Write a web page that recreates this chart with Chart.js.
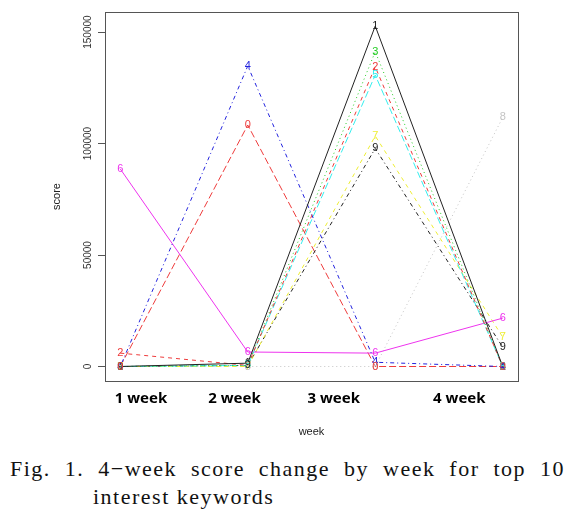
<!DOCTYPE html>
<html>
<head>
<meta charset="utf-8">
<script src="https://cdn.jsdelivr.net/npm/chart.js@4/dist/chart.umd.min.js"></script>
<style>
  html, body { margin: 0; padding: 0; background: #fff; }
  #wrap { position: relative; width: 585px; height: 513px; overflow: hidden; }
  #c { position: absolute; left: 0; top: 0; }
  .cap { position: absolute; font-family: "Liberation Serif", serif; font-size: 22px; color: #111; letter-spacing: 1.5px; white-space: nowrap; }
  #cap1 { left: 10px; top: 456px; width: 555px; white-space: normal; text-align: justify; text-align-last: justify; }
  #cap2 { left: 93px; top: 484px; }
</style>
</head>
<body>
<div id="wrap">
  <canvas id="c" width="585" height="440"></canvas>
  <div class="cap" id="cap1">Fig. 1. 4−week score change by week for top 10</div>
  <div class="cap" id="cap2">interest keywords</div>
</div>
<script>
// ---- data ----
const weeks = [1, 2, 3, 4];
const weekLabels = ["1 week", "2 week", "3 week", "4 week"];
const weekLabelPos = [1.162, 1.896, 2.674, 3.660];
const yTicks = [0, 50000, 100000, 150000];
const seriesNames = ["1", "2", "3", "4", "5", "6", "7", "8", "9", "0"];
const s1 = [0, 1500, 152700, 0];
const s2 = [6000, 500, 134400, 0];
const s3 = [0, 500, 141200, 0];
const s4 = [0, 134800, 1900, 0];
const s5 = [0, 500, 130700, 0];
const s6 = [88600, 6500, 6000, 21700];
const s7 = [0, 0, 103400, 13200];
const s8 = [0, 0, 0, 111700];
const s9 = [0, 500, 97800, 8700];
const s10 = [0, 108300, 0, 0];
const seriesValues = [s1, s2, s3, s4, s5, s6, s7, s8, s9, s10];

// ---- styles ----
const colors = ["#222222", "#ee3b3b", "#22cc22", "#2222dd", "#33eeee", "#ee33ee", "#eeee33", "#c4c4c4", "#222222", "#ee3b3b"];
const dashes = [[], [4, 4], [1, 3], [1, 3, 4, 3], [7, 3]];

const datasets = seriesValues.map((vals, i) => ({
  label: seriesNames[i],
  data: vals.map((v, j) => ({ x: weeks[j], y: v })),
  borderColor: colors[i],
  backgroundColor: colors[i],
  borderWidth: 1,
  borderDash: dashes[i % 5],
  pointRadius: 0,
  pointHoverRadius: 0,
  tension: 0,
  fill: false
}));

const pointLabels = {
  id: 'pointLabels',
  afterDatasetsDraw(chart) {
    const ctx = chart.ctx;
    ctx.save();
    ctx.font = '11px "Liberation Sans", Arial, sans-serif';
    ctx.textAlign = 'center';
    ctx.textBaseline = 'middle';
    chart.data.datasets.forEach((ds, i) => {
      const meta = chart.getDatasetMeta(i);
      ctx.fillStyle = ds.borderColor;
      meta.data.forEach(pt => {
        ctx.fillText(ds.label, pt.x, pt.y);
      });
    });
    ctx.restore();
  }
};

const boxPlugin = {
  id: 'box',
  afterDraw(chart) {
    const a = chart.chartArea;
    const ctx = chart.ctx;
    ctx.save();
    ctx.strokeStyle = '#555';
    ctx.lineWidth = 1;
    ctx.strokeRect(Math.round(a.left) + 0.5, Math.round(a.top) + 0.5, Math.round(a.right - a.left), Math.round(a.bottom - a.top));
    ctx.restore();
  }
};

new Chart(document.getElementById('c'), {
  type: 'line',
  data: { datasets },
  options: {
    responsive: false,
    animation: false,
    events: [],
    layout: { padding: { top: 12, right: 67, left: 0, bottom: 0 } },
    plugins: { legend: { display: false }, tooltip: { enabled: false }, title: { display: false } },
    scales: {
      x: {
        type: 'linear',
        min: 0.88, max: 4.12,
        afterBuildTicks(scale) { scale.ticks = weekLabelPos.map(v => ({ value: v })); },
        afterFit(scale) { scale.height = 59; },
        grid: { display: false, drawTicks: false },
        border: { display: false },
        ticks: {
          autoSkip: false,
          maxRotation: 0, minRotation: 0,
          padding: 9,
          color: '#000',
          font: { family: '"Noto Sans", sans-serif', size: 15, weight: 'bold' },
          callback: (v, idx) => weekLabels[idx]
        },
        title: {
          display: true, text: 'week', color: '#222',
          font: { family: '"Liberation Sans", Arial, sans-serif', size: 11 },
          padding: { top: 0, bottom: 1 }
        }
      },
      y: {
        type: 'linear',
        min: -6500, max: 159000,
        afterBuildTicks(scale) { scale.ticks = yTicks.map(v => ({ value: v })); },
        afterFit(scale) { scale.width = 105; },
        grid: { display: true, drawOnChartArea: false, drawTicks: true, tickLength: 7, color: '#555' },
        border: { display: false },
        ticks: {
          minRotation: 90, maxRotation: 90,
          crossAlign: 'center',
          padding: -7,
          color: '#333',
          font: { family: '"Liberation Sans", Arial, sans-serif', size: 10 },
          callback: v => String(v)
        },
        title: {
          display: true, text: 'score', color: '#222',
          font: { family: '"Liberation Sans", Arial, sans-serif', size: 11 },
          padding: { top: 50, bottom: 0 }
        }
      }
    }
  },
  plugins: [pointLabels, boxPlugin]
});
</script>
</body>
</html>
